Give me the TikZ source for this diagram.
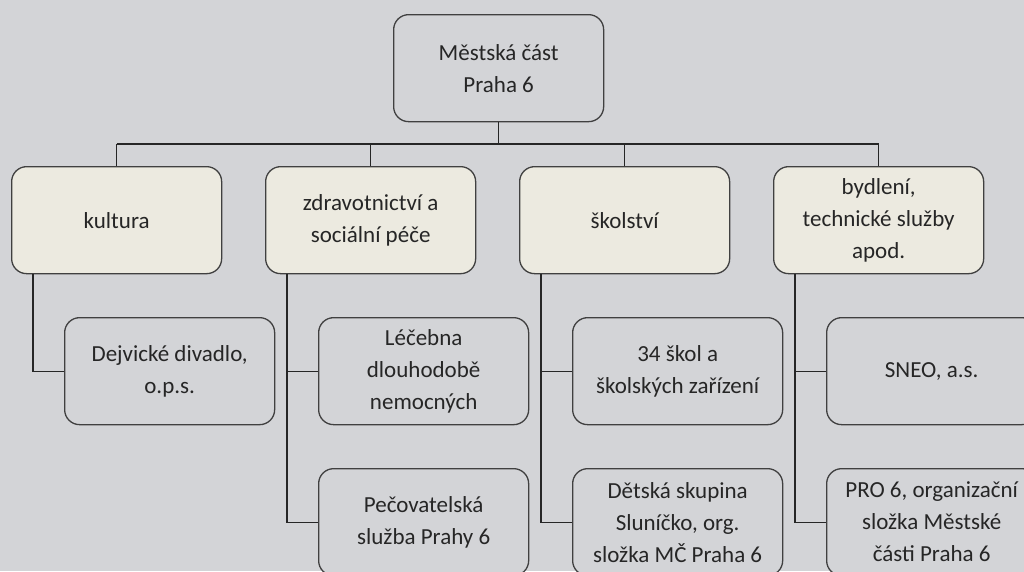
\documentclass[tikz,border=0pt]{standalone}
\usepackage{fontspec}
\setmainfont{Carlito}
\definecolor{bgc}{RGB}{211,212,215}
\definecolor{cream}{RGB}{236,234,224}
\definecolor{bord}{RGB}{64,64,64}
\definecolor{txt}{RGB}{38,38,38}
\begin{document}
\begin{tikzpicture}[x=1pt,y=-1pt,
  box/.style={draw=bord,line width=1.3pt,rounded corners=15pt,minimum width=210pt,minimum height=107pt,
    anchor=north west,align=center,text=txt,font=\fontsize{23}{32}\selectfont,inner sep=2pt},
  lvl/.style={box,fill=cream},
  leaf/.style={box,fill=bgc},
  conn/.style={draw=black!85,line width=1.3pt}]
\useasboundingbox (0,0) rectangle (1024,571);
\clip (0,0) rectangle (1024,571);
\fill[bgc] (0,0) rectangle (1024,571);
\node[leaf] (top) at (393,14) {Městská část\\Praha 6};
\node[lvl] (a) at (11,166) {kultura};
\node[lvl] (b) at (265,166) {zdravotnictví a\\sociální péče};
\node[lvl] (c) at (519,166) {školství};
\node[lvl] (d) at (773,166) {bydlení,\\technické služby\\apod.};
\node[leaf] (a1) at (64,317) {Dejvické divadlo,\\o.p.s.};
\node[leaf] (b1) at (318,317) {Léčebna\\dlouhodobě\\nemocných};
\node[leaf] (b2) at (318,468) {Pečovatelská\\služba Prahy 6};
\node[leaf] (c1) at (572,317) {34 škol a\\školských zařízení};
\node[leaf] (c2) at (572,468) {Dětská skupina\\Sluníčko, org.\\složka MČ Praha 6};
\node[leaf] (d1) at (826,317) {SNEO, a.s.};
\node[leaf] (d2) at (826,468) {PRO 6, organizační\\složka Městské\\části Praha 6};
\coordinate (bus) at (0,144);
\draw[conn] (top.south) -- (top.south |- bus);
\draw[conn] (a.north |- bus) -- (d.north |- bus);
\foreach \n in {a,b,c,d} \draw[conn] (\n.north) -- (\n.north |- bus);
\coordinate (ax) at ([xshift=22pt]a.south west);
\coordinate (bx) at ([xshift=22pt]b.south west);
\coordinate (cx) at ([xshift=22pt]c.south west);
\coordinate (dx) at ([xshift=22pt]d.south west);
\draw[conn] (ax) |- (a1.west);
\draw[conn] (bx) |- (b2.west);
\draw[conn] (bx |- b1.west) -- (b1.west);
\draw[conn] (cx) |- (c2.west);
\draw[conn] (cx |- c1.west) -- (c1.west);
\draw[conn] (dx) |- (d2.west);
\draw[conn] (dx |- d1.west) -- (d1.west);
\end{tikzpicture}
\end{document}
